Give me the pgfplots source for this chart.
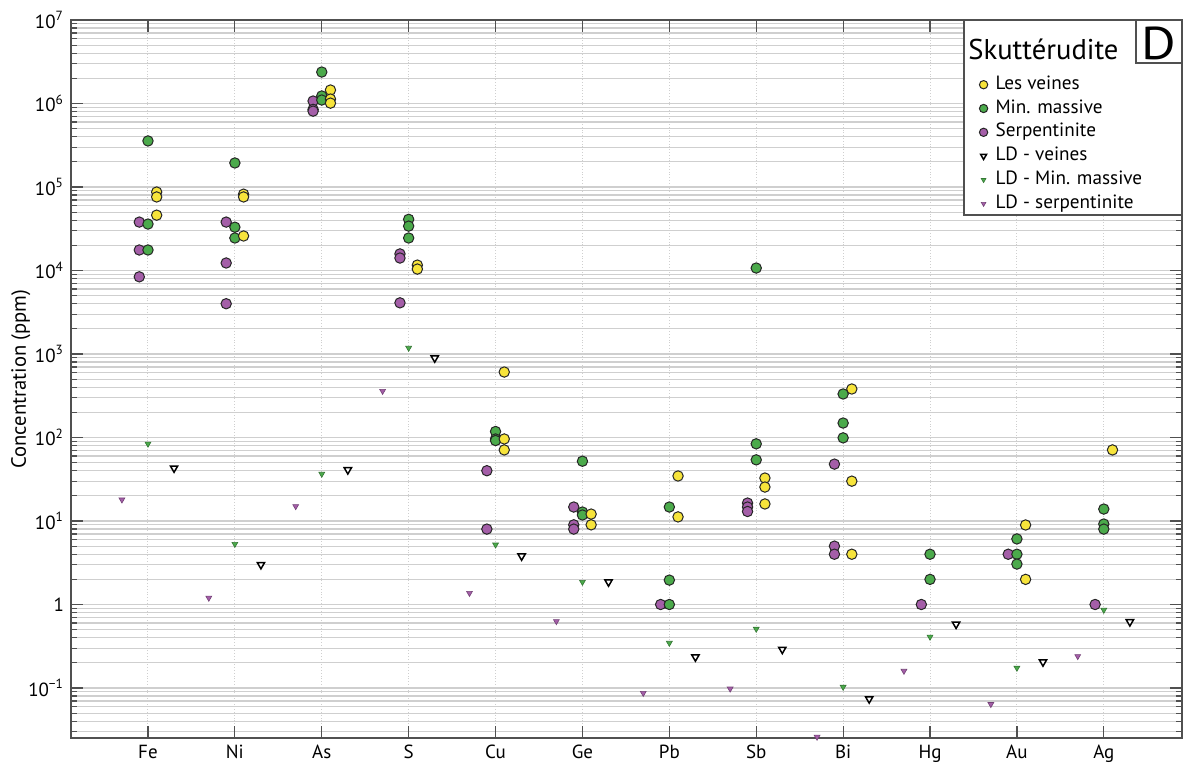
\documentclass[border=0pt]{standalone}
\usepackage{pgfplots}
\pgfplotsset{compat=1.18}
\usepackage{fontspec}
\setmainfont{PT Sans}
\definecolor{cyellow}{HTML}{F7E43B}
\definecolor{cgreen}{HTML}{4BAA4B}
\definecolor{cpurple}{HTML}{A45EA8}
\definecolor{axiscol}{HTML}{505050}
\definecolor{gridcol}{HTML}{CFCFCF}
\begin{document}
\begin{tikzpicture}
\begin{axis}[
  scale only axis,
  width=555.5pt, height=359pt,
  xmin=-0.886, xmax=11.9,
  ymode=log, ymin=0.0252, ymax=1e7,
  xtick={0,...,11},
  xticklabels={Fe,Ni,As,S,Cu,Ge,Pb,Sb,Bi,Hg,Au,Ag},
  ytick={0.1,1,10,100,1000,10000,100000,1000000,10000000},
  yticklabels={10\textsuperscript{−1},1,10\textsuperscript{1},10\textsuperscript{2},10\textsuperscript{3},10\textsuperscript{4},10\textsuperscript{5},10\textsuperscript{6},10\textsuperscript{7}},
  minor ytick={0.03,0.04,0.05,0.06,0.07,0.08,0.09,0.2,0.3,0.4,0.5,0.6,0.7,0.8,0.9,2,3,4,5,6,7,8,9,20,30,40,50,60,70,80,90,200,300,400,500,600,700,800,900,2000,3000,4000,5000,6000,7000,8000,9000,20000,30000,40000,50000,60000,70000,80000,90000,200000,300000,400000,500000,600000,700000,800000,900000,2000000,3000000,4000000,5000000,6000000,7000000,8000000,9000000},
  /pgf/number format/assume math mode=true,
  tick label style={font=\fontsize{9.5}{10}\selectfont},
  ylabel={Concentration (ppm)},
  ylabel style={font=\fontsize{10.3}{11}\selectfont, yshift=-8pt},
  axis line style={axiscol, line width=0.6pt},
  tick style={axiscol, line width=0.6pt},
  tick align=inside,
  major tick length=6pt, minor tick length=3pt,
  ymajorgrids, yminorgrids, xmajorgrids,
  major y grid style={gridcol, line width=0.6pt},
  minor y grid style={gridcol, line width=0.6pt},
  major x grid style={gridcol, densely dotted, line width=0.5pt},
  clip mode=individual,
  reverse legend,
  legend cell align=left,
  legend image post style={scale=0.8},
  legend style={draw=none, fill=none, at={(rel axis cs:0.8119,0.9313)}, anchor=north west,
    font=\fontsize{9.6}{10}\selectfont, row sep=0.9pt, column sep=2.5pt,
    nodes={inner sep=1.4pt, text height=6.4pt, text depth=1.8pt}},
]
% LD serpentinite
\addplot[only marks, mark=triangle*, mark size=1.7pt, mark options={rotate=180, fill=cpurple, draw=cpurple!70!black, line width=0.3pt}]
 coordinates {(-0.3,18) (0.7,1.2) (1.7,15) (2.7,360) (3.7,1.37) (4.7,0.63) (5.7,0.087) (6.7,0.098) (7.7,0.026) (8.7,0.16) (9.7,0.064) (10.7,0.24)};
\addlegendentry{LD - serpentinite}
% LD min massive
\addplot[only marks, mark=triangle*, mark size=1.7pt, mark options={rotate=180, fill=cgreen, draw=cgreen!70!black, line width=0.3pt}]
 coordinates {(0,84) (1,5.3) (2,36.6) (3,1180) (4,5.2) (5,1.86) (6,0.346) (7,0.51) (8,0.103) (9,0.41) (10,0.174) (11,0.86)};
\addlegendentry{LD - Min. massive}
% LD veines
\addplot[only marks, mark=triangle*, mark size=2.1pt, mark options={rotate=180, fill=white, draw=black, line width=0.75pt}]
 coordinates {(0.3,43) (1.3,3.0) (2.3,41) (3.3,895) (4.3,3.8) (5.3,1.86) (6.3,0.235) (7.3,0.29) (8.3,0.074) (9.3,0.58) (10.3,0.205) (11.3,0.62)};
\addlegendentry{LD - veines}
% Serpentinite
\addplot[only marks, mark=*, mark size=2.6pt, mark options={fill=cpurple, draw=black!85, line width=0.5pt}]
 coordinates {(-0.1,38000) (-0.1,17600) (-0.1,8400)
 (0.9,38000) (0.9,12300) (0.9,4000)
 (1.9,1070000) (1.9,850000) (1.9,810000)
 (2.9,15800) (2.9,14100) (2.9,4100)
 (3.9,40) (3.9,8.0)
 (4.9,14.7) (4.9,9.0) (4.9,8.0)
 (5.9,1.0)
 (6.9,16.4) (6.9,14.7) (6.9,13)
 (7.9,48) (7.9,5.0) (7.9,4.0)
 (8.9,1.0)
 (9.9,4.0)
 (10.9,1.0)};
\addlegendentry{Serpentinite}
% Min. massive
\addplot[only marks, mark=*, mark size=2.6pt, mark options={fill=cgreen, draw=black!85, line width=0.5pt}]
 coordinates {(0,356000) (0,36000) (0,17600)
 (1,194000) (1,33000) (1,24500)
 (2,2380000) (2,1230000) (2,1100000)
 (3,41000) (3,34000) (3,24500)
 (4,118) (4,96) (4,92)
 (5,52) (5,12.8) (5,11.8)
 (6,14.7) (6,1.96) (6,1.0)
 (7,10700) (7,84) (7,54)
 (8,332) (8,149) (8,99)
 (9,4.0) (9,2.0)
 (10,6.1) (10,4.0) (10,3.05)
 (11,13.9) (11,9.2) (11,8.0)};
\addlegendentry{Min. massive}
% Les veines
\addplot[only marks, mark=*, mark size=2.6pt, mark options={fill=cyellow, draw=black!85, line width=0.5pt}]
 coordinates {(0.1,87000) (0.1,76000) (0.1,46000)
 (1.1,82000) (1.1,76000) (1.1,25900)
 (2.1,1450000) (2.1,1130000) (2.1,1010000)
 (3.1,11600) (3.1,10400)
 (4.1,608) (4.1,96) (4.1,71)
 (5.1,12.1) (5.1,9.0)
 (6.1,34.6) (6.1,11.2)
 (7.1,32.7) (7.1,25.5) (7.1,16)
 (8.1,381) (8.1,30) (8.1,4.0)
 (10.1,8.96) (10.1,2.0)
 (11.1,71)};
\addlegendentry{Les veines}
% legend frame, title and panel letter
\draw[axiscol, line width=0.6pt, fill=white] (rel axis cs:0.8038,0.7284) rectangle (rel axis cs:1,1);
\draw[axiscol, line width=0.6pt] (rel axis cs:0.9586,0.940) rectangle (rel axis cs:1,1);
\node[anchor=base west, inner sep=0pt, font=\fontsize{14.3}{14}\selectfont] at (rel axis cs:0.8074,0.9443) {Skuttérudite};
\node[anchor=base, inner sep=0pt, font=\fontsize{23}{23}\selectfont, xscale=1.15] at (rel axis cs:0.9793,0.9443) {D};
\end{axis}
\pgfresetboundingbox
\path[use as bounding box] ([xshift=-35.5pt,yshift=-15.5pt]current axis.south west) rectangle ([xshift=1pt,yshift=10pt]current axis.north east);
\end{tikzpicture}
\end{document}
